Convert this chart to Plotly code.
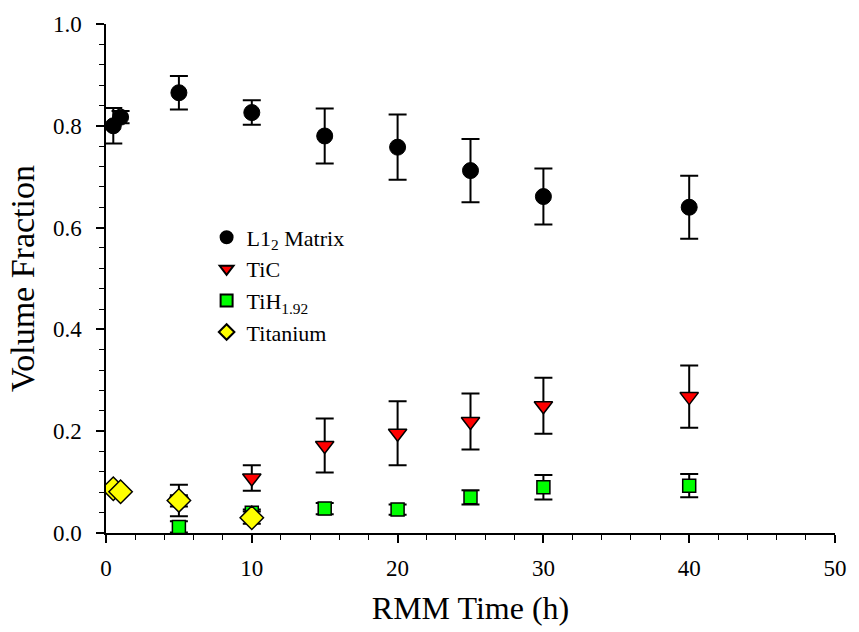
import plotly.graph_objects as go

# RMM time (h) and measured volume fractions with symmetric error
matrix_t = [0.5, 1, 5, 10, 15, 20, 25, 30, 40]
matrix_v = [0.800, 0.817, 0.865, 0.826, 0.780, 0.758, 0.712, 0.661, 0.640]
matrix_e = [0.035, 0.012, 0.033, 0.024, 0.054, 0.064, 0.062, 0.055, 0.062]

tic_t = [5, 10, 15, 20, 25, 30, 40]
tic_v = [0.063, 0.108, 0.172, 0.196, 0.219, 0.250, 0.268]
tic_e = [0.011, 0.025, 0.053, 0.063, 0.055, 0.055, 0.061]

tih_t = [5, 10, 15, 20, 25, 30, 40]
tih_v = [0.012, 0.040, 0.048, 0.046, 0.070, 0.090, 0.093]
tih_e = [0.011, 0.006, 0.011, 0.010, 0.014, 0.024, 0.023]

ti_t = [0.5, 1, 5, 10]
ti_v = [0.087, 0.081, 0.064, 0.030]
ti_e = [0.0, 0.0, 0.031, 0.012]

x_ticks = [0, 10, 20, 30, 40, 50]
y_ticks = [0.0, 0.2, 0.4, 0.6, 0.8, 1.0]

FONT = "Liberation Serif"


def err(vals):
    return dict(type="data", array=vals, visible=True, color="black",
                thickness=2, width=9)


fig = go.Figure()

fig.add_trace(go.Scatter(
    x=matrix_t, y=matrix_v, mode="markers", name="L1<sub>2</sub> Matrix",
    error_y=err(matrix_e),
    marker=dict(symbol="circle", size=16, color="black",
                line=dict(color="black", width=1)),
))
fig.add_trace(go.Scatter(
    x=tic_t, y=tic_v, mode="markers", name="TiC",
    error_y=err(tic_e),
    marker=dict(symbol="triangle-down", size=16, color="#ff0000",
                line=dict(color="black", width=1.5)),
))
fig.add_trace(go.Scatter(
    x=tih_t, y=tih_v, mode="markers", name="TiH<sub>1.92</sub>",
    error_y=err(tih_e),
    marker=dict(symbol="square", size=13, color="#00ff00",
                line=dict(color="black", width=1.5)),
))
fig.add_trace(go.Scatter(
    x=ti_t, y=ti_v, mode="markers", name="Titanium",
    error_y=err(ti_e),
    marker=dict(symbol="diamond", size=18, color="#ffff00",
                line=dict(color="black", width=1.5)),
))

axis_common = dict(
    showline=True, linecolor="black", linewidth=1.5,
    ticks="outside", ticklen=8, tickwidth=1.5, tickcolor="black",
    showgrid=False, zeroline=False, mirror=False,
    tickfont=dict(family=FONT, size=23, color="black"),
)

fig.update_xaxes(
    range=[0, 50], tickvals=x_ticks, ticktext=[str(v) for v in x_ticks],
    ticklabelstandoff=6,
    title=dict(text="RMM Time (h)", font=dict(family=FONT, size=32, color="black"),
               standoff=16),
    minor=dict(dtick=2, ticks="outside", ticklen=5, tickwidth=1.2, tickcolor="black"),
    **axis_common,
)
fig.update_yaxes(
    range=[0, 1.0], tickvals=y_ticks, ticktext=[f"{v:.1f}" for v in y_ticks],
    ticklabelstandoff=10,
    title=dict(text="Volume Fraction", font=dict(family=FONT, size=34, color="black"),
               standoff=8),
    minor=dict(dtick=0.04, ticks="outside", ticklen=5, tickwidth=1.2, tickcolor="black"),
    **axis_common,
)

fig.update_layout(
    width=859, height=632,
    margin=dict(l=106, r=14, t=17, b=98),
    paper_bgcolor="white", plot_bgcolor="white",
    showlegend=True,
    legend=dict(
        x=0.138, y=0.622, xanchor="left", yanchor="top",
        bgcolor="rgba(0,0,0,0)", borderwidth=0,
        font=dict(family=FONT, size=22, color="black"),
        itemsizing="constant", tracegroupgap=0,
    ),
)

fig.write_html("out.html")
